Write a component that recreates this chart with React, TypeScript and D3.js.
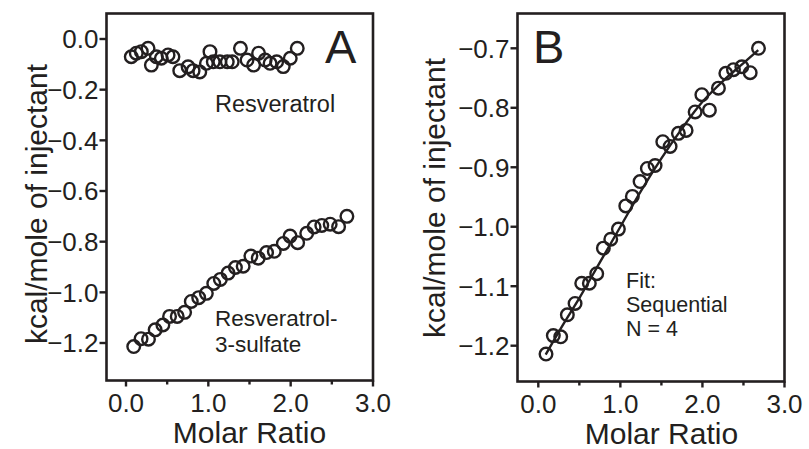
import React, { useEffect, useRef } from "react";
import * as d3 from "d3";

// Resveratrol-3-sulfate titration (same points in A and B)
const sulfateRatio = [0.094, 0.183, 0.273, 0.354, 0.448, 0.529, 0.622, 0.712, 0.793, 0.883, 0.976, 1.066, 1.146, 1.24, 1.329, 1.423, 1.517, 1.606, 1.707, 1.801, 1.911, 1.993, 2.085, 2.195, 2.285, 2.378, 2.48, 2.582, 2.683];
const sulfateHeat = [-1.214, -1.183, -1.185, -1.148, -1.129, -1.095, -1.095, -1.079, -1.036, -1.021, -1.004, -0.965, -0.949, -0.924, -0.902, -0.897, -0.857, -0.865, -0.843, -0.838, -0.807, -0.778, -0.804, -0.767, -0.742, -0.736, -0.731, -0.741, -0.7];

// Resveratrol titration (panel A, top)
const resvRatio = [0.064, 0.125, 0.186, 0.268, 0.308, 0.369, 0.429, 0.511, 0.57, 0.653, 0.754, 0.815, 0.896, 0.977, 1.02, 1.06, 1.14, 1.23, 1.29, 1.39, 1.47, 1.55, 1.61, 1.69, 1.75, 1.83, 1.91, 1.995, 2.08];
const resvHeat = [-0.07, -0.056, -0.05, -0.037, -0.103, -0.07, -0.076, -0.063, -0.07, -0.125, -0.11, -0.125, -0.13, -0.096, -0.05, -0.09, -0.09, -0.09, -0.09, -0.037, -0.083, -0.103, -0.056, -0.083, -0.096, -0.09, -0.109, -0.076, -0.037];

// sequential-site fit curve (panel B)
const fitRatio = [0.09, 0.3, 0.5, 0.75, 1.0, 1.25, 1.5, 1.75, 2.0, 2.25, 2.5, 2.68];
const fitHeat = [-1.215, -1.165, -1.12, -1.06, -1.0, -0.94, -0.885, -0.835, -0.79, -0.755, -0.725, -0.703];

const xTicks = [0, 1, 2, 3];
const xMinorTicks = [0.5, 1.5, 2.5];
const yTicksA = [0, -0.2, -0.4, -0.6, -0.8, -1.0, -1.2];
const yTicksB = [-0.7, -0.8, -0.9, -1.0, -1.1, -1.2];

const INK = "#231f20";
const FONT = "'Liberation Sans', Arial, Helvetica, sans-serif";

const App = () => {
  const ref = useRef(null);

  useEffect(() => {
    const svg = d3.select(ref.current);
    svg.selectAll("*").remove();

    const drawPanel = (opts) => {
      const { frame, x, y, yTicks, yFmt, labelX, labelY } = opts;
      const g = svg.append("g");

      // frame
      g.append("rect")
        .attr("x", frame.left)
        .attr("y", frame.top)
        .attr("width", frame.right - frame.left)
        .attr("height", frame.bottom - frame.top)
        .attr("fill", "none")
        .attr("stroke", INK)
        .attr("stroke-width", 2.6);

      // y ticks
      yTicks.forEach(t => {
        g.append("line")
          .attr("x1", frame.left - 7)
          .attr("x2", frame.left)
          .attr("y1", y(t))
          .attr("y2", y(t))
          .attr("stroke", INK)
          .attr("stroke-width", 2.4);
        g.append("text")
          .attr("x", frame.left - 8)
          .attr("y", y(t))
          .attr("dy", "0.36em")
          .attr("text-anchor", "end")
          .attr("font-size", 26)
          .attr("fill", INK)
          .text(yFmt(t));
      });

      // x ticks
      xTicks.forEach(t => {
        g.append("line")
          .attr("x1", x(t))
          .attr("x2", x(t))
          .attr("y1", frame.bottom)
          .attr("y2", frame.bottom + 6)
          .attr("stroke", INK)
          .attr("stroke-width", 2.4);
        g.append("text")
          .attr("x", x(t))
          .attr("y", frame.bottom + 31)
          .attr("text-anchor", "middle")
          .attr("font-size", 26)
          .attr("fill", INK)
          .text(d3.format(".1f")(t));
      });
      xMinorTicks.forEach(t => {
        g.append("line")
          .attr("x1", x(t))
          .attr("x2", x(t))
          .attr("y1", frame.bottom)
          .attr("y2", frame.bottom + 4)
          .attr("stroke", INK)
          .attr("stroke-width", 2.4);
      });

      // axis titles
      g.append("text")
        .attr("x", x(1.5))
        .attr("y", frame.bottom + 62)
        .attr("text-anchor", "middle")
        .attr("font-size", 30)
        .attr("fill", INK)
        .text("Molar Ratio");

      g.append("text")
        .attr("transform", `translate(${labelX},${labelY}) rotate(-90)`)
        .attr("text-anchor", "middle")
        .attr("font-size", 30)
        .attr("fill", INK)
        .text("kcal/mole of injectant");

      return g;
    };

    const circles = (g, xs, ys, x, y) => {
      g.append("g")
        .selectAll("circle")
        .data(xs.map((v, i) => [v, ys[i]]))
        .enter()
        .append("circle")
        .attr("cx", d => x(d[0]))
        .attr("cy", d => y(d[1]))
        .attr("r", 6.3)
        .attr("fill", "none")
        .attr("stroke", INK)
        .attr("stroke-width", 2.4);
    };

    // --- Panel A ---
    const xA = d3.scaleLinear().domain([0, 3]).range([126, 373]);
    const yA = d3.scaleLinear().domain([0, -1.2]).range([39, 343]);
    const gA = drawPanel({
      frame: { left: 106.5, right: 373, top: 13.5, bottom: 380.5 },
      x: xA,
      y: yA,
      yTicks: yTicksA,
      yFmt: d3.format(".1f"),
      labelX: 47,
      labelY: 204
    });
    circles(gA, resvRatio, resvHeat, xA, yA);
    circles(gA, sulfateRatio, sulfateHeat, xA, yA);

    gA.append("text")
      .attr("x", 215)
      .attr("y", 112)
      .attr("font-size", 23.5)
      .attr("fill", INK)
      .text("Resveratrol");
    const lblA = gA.append("text")
      .attr("x", 215)
      .attr("y", 326)
      .attr("font-size", 22.5)
      .attr("fill", INK);
    lblA.append("tspan").attr("x", 215).text("Resveratrol-");
    lblA.append("tspan").attr("x", 215).attr("dy", 25.5).text("3-sulfate");

    gA.append("text")
      .attr("x", 325)
      .attr("y", 63)
      .attr("font-size", 47)
      .attr("fill", INK)
      .text("A");

    // --- Panel B ---
    const xB = d3.scaleLinear().domain([0, 3]).range([538.3, 784.5]);
    const yB = d3.scaleLinear().domain([-0.7, -1.2]).range([48.3, 345.7]);
    const gB = drawPanel({
      frame: { left: 517.5, right: 784.5, top: 13.5, bottom: 381.5 },
      x: xB,
      y: yB,
      yTicks: yTicksB,
      yFmt: d3.format(".1f"),
      labelX: 445,
      labelY: 198
    });

    const line = d3.line()
      .x(d => xB(d[0]))
      .y(d => yB(d[1]))
      .curve(d3.curveCatmullRom);
    gB.append("path")
      .datum(fitRatio.map((v, i) => [v, fitHeat[i]]))
      .attr("d", line)
      .attr("fill", "none")
      .attr("stroke", INK)
      .attr("stroke-width", 2.4);
    circles(gB, sulfateRatio, sulfateHeat, xB, yB);

    const fitLbl = gB.append("text")
      .attr("x", 626)
      .attr("y", 288)
      .attr("font-size", 21.5)
      .attr("fill", INK);
    ["Fit:", "Sequential", "N = 4"].forEach((s, i) => {
      fitLbl.append("tspan").attr("x", 626).attr("dy", i === 0 ? 0 : 24.2).text(s);
    });

    gB.append("text")
      .attr("x", 533)
      .attr("y", 63)
      .attr("font-size", 47)
      .attr("fill", INK)
      .text("B");
  }, []);

  return (
    <div style={{ position: "absolute", left: 0, top: 0 }}>
      <svg ref={ref} width={809} height={449} style={{ display: "block", fontFamily: FONT, background: "#fff" }} />
    </div>
  );
};

export default App;
